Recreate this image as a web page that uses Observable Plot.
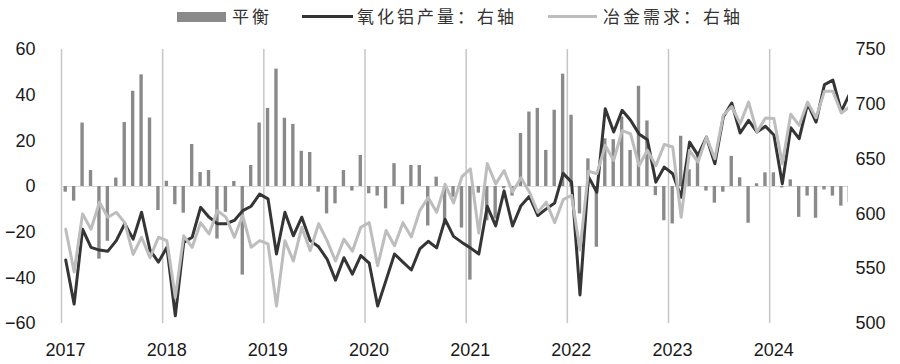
<!DOCTYPE html>
<html><head><meta charset="utf-8">
<script src="https://cdn.jsdelivr.net/npm/d3@7"></script>
<script src="https://cdn.jsdelivr.net/npm/@observablehq/plot@0.6"></script>
<style>
body{margin:0;background:#fff;}
#wrap{width:900px;height:364px;position:relative;font-family:"Liberation Sans",Arial,sans-serif;}
#legend{position:relative;height:34px;width:900px;font-family:"Noto Sans CJK SC",sans-serif;font-size:17px;color:#333;}
.sw{position:absolute;}
.lt{position:absolute;top:5px;letter-spacing:3px;line-height:22px;white-space:nowrap;}
</style></head><body>
<div id="wrap"><div id="legend"></div><div id="chart"></div></div>
<script>
const years = ["2017","2018","2019","2020","2021","2022","2023","2024"];
const seriesNames = ["平衡","氧化铝产量：右轴","冶金需求：右轴"];
const leftTicks = [-60,-40,-20,0,20,40,60];
const rightTicks = [500,550,600,650,700,750];

// monthly, Jan 2017 - Oct 2024
const balance = [
 -2.5,-6.4,27.8,7,-31.8,-24,3.7,28,41.7,48.9,30,-10.5,
 2.3,-8,-11.7,18.4,6.1,7,-23,-11.3,2.2,-38.8,9.2,27.8,
 34.2,51.4,29.9,27.2,15.4,14.9,-2.5,-12,-7.6,7,-2,13.6,
 -3.2,-4.2,-9.8,10,-8,9.2,9.2,-17.3,4.1,-17,-4.7,-18.2,
 -41,-2.9,-15,-14.2,-1,-4.2,23.2,32.6,34.2,15.8,33.4,49.2,
 31.2,-12,12.1,-26.6,20.9,20.5,30.4,15.8,43.9,28.7,-4,-15,
 -16.4,22,7.3,13.6,-2,-7.3,-2.5,13.2,3.8,-16.1,1.2,6,
 6,-0.6,2.9,-13.5,-4.2,-13.9,-1.5,-4.2,-8.6,-6.9
];
const production = [
 558,517.7,586,569.5,567,566,575.6,591,577,601.5,567,556,
 569.5,507,574,578.7,606,597,591,591,594,603,607,618,
 613.7,563.4,601.5,580,597,575.6,570,558.8,539.6,560,545,562,
 555,516,539.6,563.4,556,548.8,568,575,569,595,579.5,574,
 569,563.4,607,589,621,589,607.5,616,598.5,604.6,610,637,
 629,526,634,619.8,696,674.7,694.5,685.4,673,667.7,629,642.7,
 636.6,615.2,665.5,653.4,670,645.7,688.4,701.2,673.8,685.4,674.7,680,
 672,627.4,678.7,668.6,700.6,683.8,718,722,693.6,709.8
];
const demand = [
 586,547,600,586,610.7,597,601.5,592,563,578.7,560,578.7,
 575.6,523.8,580,569.5,592,581.7,603,597,578.7,598.5,569.5,575.6,
 572.6,516,575.6,557,587.8,566.5,591,575.6,557,577,566,587.8,
 592,552.7,584.8,571,592,579,603,615,601.5,627,610,634,
 641,582.5,646,627.4,639.6,620,633,620,601.5,610.7,592,613,
 617,567,639,636.6,662.5,648.8,676,673,644,658,644,663.4,
 661,597,658,647.3,670,650.3,690,698,682.3,702,674.7,687.5,
 687,645.7,690.9,680.8,702,687.8,712,712,692,697.6
];

const toLeft = v => (v - 625) * 120 / 250;
const fromLeft = d => Math.round(d * 250 / 120 + 625);

const bars = balance.map((v, i) => ({m: i + 0.5, v}));
const prod = production.map((v, i) => ({m: i + 0.5, v: toLeft(v)}));
const dem = demand.map((v, i) => ({m: i + 0.5, v: toLeft(v)}));
const yearPos = years.map((y, i) => i * 12);

// legend
const lg = document.getElementById("legend");
lg.innerHTML = `
<div class="sw" style="left:177px;top:12px;width:49px;height:10px;background:#8a8a8a"></div>
<div class="lt" style="left:232px">${seriesNames[0]}</div>
<div class="sw" style="left:302px;top:14.5px;width:51px;height:3px;background:#333"></div>
<div class="lt" style="left:357px">${seriesNames[1]}</div>
<div class="sw" style="left:548px;top:14.5px;width:49px;height:3px;background:#bdbdbd"></div>
<div class="lt" style="left:603px">${seriesNames[2]}</div>`;

const chart = Plot.plot({
  width: 900,
  height: 330,
  marginLeft: 61,
  marginRight: 52,
  marginTop: 15,
  marginBottom: 41,
  style: {fontFamily: "Liberation Sans, Arial, sans-serif", fontSize: "18px", color: "#1a1a1a", background: "#fff"},
  x: {type: "linear", domain: [0, 93.35], axis: null, label: null},
  y: {domain: [-60, 60], axis: null, label: null},
  marks: [
    Plot.ruleX(yearPos, {stroke: "#c6c6c6", strokeWidth: 1.5}),
    Plot.ruleY([0], {stroke: "#d9d9d9", strokeWidth: 1}),
    Plot.rect(bars, {x1: d => d.m - 0.2, x2: d => d.m + 0.2, y1: 0, y2: "v", fill: "#8a8a8a", clip: true}),
    Plot.line(prod, {x: "m", y: "v", stroke: "#353535", strokeWidth: 3, strokeLinejoin: "round", clip: true}),
    Plot.line(dem, {x: "m", y: "v", stroke: "#bdbdbd", strokeWidth: 3, strokeLinejoin: "round", clip: true}),
    Plot.axisY(leftTicks, {anchor: "left", label: null, tickSize: 0, tickPadding: 26, fontSize: 18}),
    Plot.axisY(rightTicks.map(toLeft), {anchor: "right", label: null, tickSize: 0, tickPadding: 7, fontSize: 18, tickFormat: fromLeft}),
    Plot.axisX(yearPos, {anchor: "bottom", label: null, tickSize: 0, tickPadding: 20, fontSize: 18, dx: 4, tickFormat: d => years[d / 12]})
  ]
});
document.getElementById("chart").appendChild(chart);
</script>
</body></html>
